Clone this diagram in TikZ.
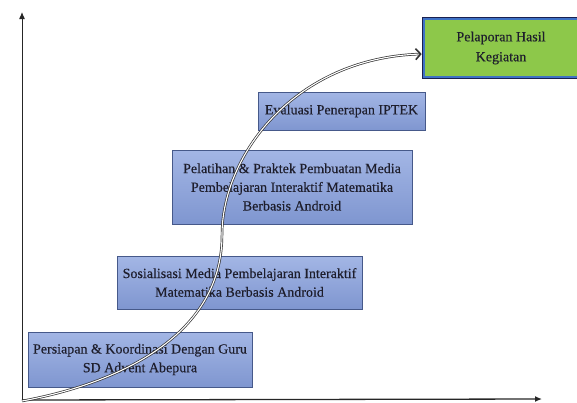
\documentclass[tikz,border=0pt]{standalone}
\usepackage{fontspec}
\setmainfont{Liberation Serif}[FakeBold=0.35]
\usetikzlibrary{arrows.meta}
\definecolor{boxfillTop}{HTML}{A3B6E5}
\definecolor{boxfillBot}{HTML}{7F96D0}
\definecolor{boxdraw}{HTML}{46598A}
\definecolor{txt}{HTML}{1E1E2C}
\definecolor{grn}{HTML}{8DC84A}
\definecolor{navy}{HTML}{1A2150}
\definecolor{midblue}{HTML}{3F72C6}
\begin{document}
\begin{tikzpicture}[x=1pt,y=-1pt,
  stepbox/.style={draw=boxdraw, line width=0.9pt, top color=boxfillTop, bottom color=boxfillBot,
    inner sep=0pt, align=center, text=txt, font=\fontsize{14}{18.7}\selectfont},
  axisline/.style={draw=black!85, line width=1pt, -{Latex[length=7pt,width=6pt]}},
  flow/.style={draw=black!80, line width=0.7pt, double=white, double distance=1.1pt,
    -{Straight Barb[length=5pt,width=11pt,line width=1.6pt]}}
]
\useasboundingbox (0,0) rectangle (577,402);

% axes
\coordinate (O) at (22,400);
\coordinate (ytop) at (22,12);
\coordinate (xend) at (542,399);
\draw[axisline] (O) -- (ytop);
\draw[axisline, line width=1.3pt] (O) -- (xend);

% boxes
\node[stepbox, minimum width=224pt, minimum height=55pt] (s1) at (140,359.5)
  {Persiapan \& Koordinasi Dengan Guru\\SD Advent Abepura};
\node[stepbox, minimum width=245pt, minimum height=53pt] (s2) at (239.5,282.5)
  {Sosialisasi Media Pembelajaran Interaktif\\Matematika Berbasis Android};
\node[stepbox, minimum width=240pt, minimum height=74pt] (s3) at (292,187)
  {Pelatihan \& Praktek Pembuatan Media\\Pembelajaran Interaktif Matematika\\Berbasis Android};
\node[stepbox, minimum width=167pt, minimum height=38pt] (s4) at (341.5,111)
  {Evaluasi Penerapan IPTEK};
\node[draw=navy, line width=2.6pt, fill=grn, inner sep=0pt, align=center, text=txt,
  font=\fontsize{14}{20}\selectfont, minimum width=156pt, minimum height=60pt] (s5) at (501,48)
  {Pelaporan Hasil\\Kegiatan};
\draw[midblue, line width=1.8pt]
  ([shift={(2.2,2.2)}]s5.north west) rectangle ([shift={(-2.2,-2.2)}]s5.south east);

% curved flow arrow
\coordinate (cs) at (22,401);
\coordinate (cm) at (222,235);
\coordinate (tip) at ([yshift=-6pt]s5.west);
\draw[flow] (cs) .. controls (110,385) and (222,340) .. (cm)
  .. controls (222,155) and (295,58) .. (tip);
\end{tikzpicture}
\end{document}
